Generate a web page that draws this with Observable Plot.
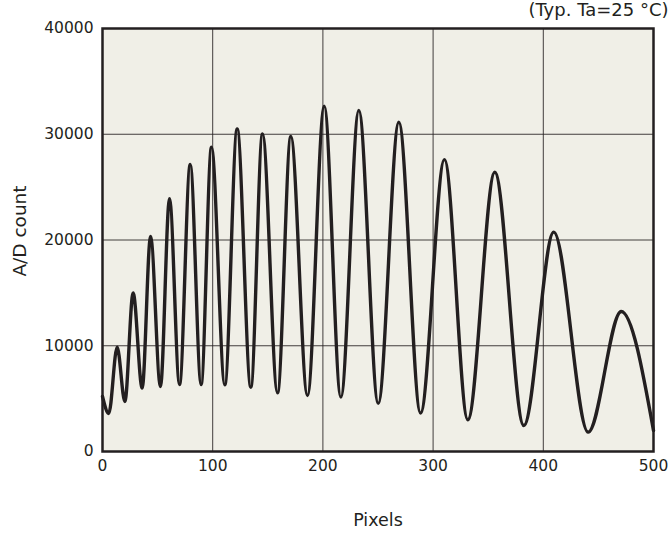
<!DOCTYPE html>
<html>
<head>
<meta charset="utf-8">
<script src="https://cdn.jsdelivr.net/npm/d3@7"></script>
<script src="https://cdn.jsdelivr.net/npm/@observablehq/plot@0.6"></script>
<style>
  html, body { margin: 0; padding: 0; background: #ffffff; }
  #chart svg { font-family: "DejaVu Sans", Verdana, sans-serif; }
</style>
</head>
<body>
<div id="chart"></div>
<script>
// Extrema of the output waveform (pixel index, A/D count)
const pixels = [0, 5.7, 13.3, 20.3, 27.8, 36, 43.6, 52.6, 60.8, 69.9, 79.6, 89.5, 98.9, 111, 122.2, 134.6, 145.2, 158.8, 170.9, 186, 201.2, 216.3, 232.6, 250.2, 268.9, 288.6, 310.3, 331.5, 356, 382.3, 409.5, 440.7, 470.7, 500];
const counts = [5200, 3600, 9860, 4730, 15000, 5990, 20330, 6150, 23900, 6340, 27140, 6340, 28780, 6300, 30510, 6080, 30040, 5550, 29790, 5300, 32650, 5140, 32250, 4550, 31140, 3630, 27600, 3000, 26410, 2460, 20740, 1830, 13240, 1990];
const xTicks = [0, 100, 200, 300, 400, 500];
const yTicks = [0, 10000, 20000, 30000, 40000];
const xGrid = [100, 200, 300, 400];
const yGrid = [10000, 20000, 30000];
const xTitle = "Pixels";
const yTitle = "A/D count";
const note = "(Typ. Ta=25 °C)";

const data = pixels.map((p, i) => ({x: p, y: counts[i]}));

const chart = Plot.plot({
  width: 672,
  height: 535,
  marginLeft: 102,
  marginRight: 19,
  marginTop: 28,
  marginBottom: 84,
  style: {fontSize: "15px", color: "#231f20", background: "#ffffff"},
  x: {domain: [0, 500]},
  y: {domain: [0, 40000]},
  marks: [
    Plot.frame({fill: "#f0efe7", stroke: "none"}),
    Plot.ruleX(xGrid, {stroke: "#231f20", strokeWidth: 1, strokeOpacity: 0.85}),
    Plot.ruleY(yGrid, {stroke: "#231f20", strokeWidth: 1, strokeOpacity: 0.85}),
    Plot.line(data, {x: "x", y: "y", curve: "monotone-x", stroke: "#231f20", strokeWidth: 3.4}),
    Plot.frame({stroke: "#231f20", strokeWidth: 2.5}),
    Plot.axisX({ticks: xTicks, tickSize: 0, tickPadding: 8, tickFormat: d => String(d), label: null, fontSize: 15.5}),
    Plot.axisY({ticks: yTicks, tickSize: 0, tickPadding: 9, tickFormat: d => String(d), label: null, fontSize: 15.5}),
    Plot.text([xTitle], {frameAnchor: "bottom", dy: 69, text: d => d, fontSize: 17.5, textAnchor: "middle", lineAnchor: "middle", fill: "#231f20"}),
    Plot.text([yTitle], {frameAnchor: "left", dx: -82, dy: -9, rotate: -90, text: d => d, fontSize: 18.5, textAnchor: "middle", lineAnchor: "middle", fill: "#231f20"}),
    Plot.text([note], {frameAnchor: "top-right", dy: -18, dx: 15, text: d => d, fontSize: 18, textAnchor: "end", lineAnchor: "middle", fill: "#231f20"})
  ]
});
document.getElementById("chart").appendChild(chart);
</script>
</body>
</html>
